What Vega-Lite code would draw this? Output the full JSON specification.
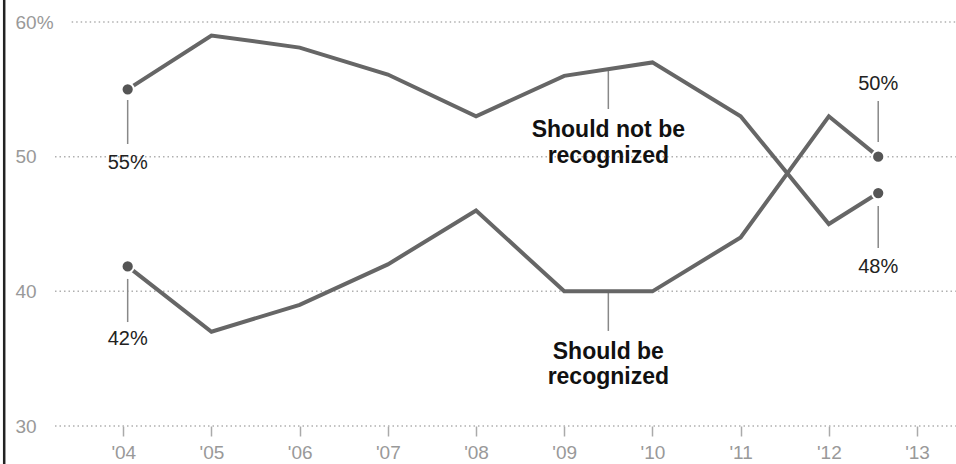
{
  "$schema": "https://vega.github.io/schema/vega-lite/v6.json",
  "width": 901,
  "height": 404,
  "autosize": {"type": "none"},
  "padding": {"left": 55, "top": 22, "right": 0, "bottom": 38},
  "background": "white",
  "config": {"font": "Liberation Sans", "view": {"stroke": null}},
  "datasets": {
    "grid": [
      {"y": 30, "x0": 2003.226, "x1": 2013.44},
      {"y": 40, "x0": 2003.226, "x1": 2013.44},
      {"y": 50, "x0": 2003.226, "x1": 2013.44},
      {"y": 60, "x0": 2003.415, "x1": 2013.44}
    ],
    "frame": [{"x": 2002.65, "y0": 61.7, "y1": 27.1}],
    "series": [
      {"series": "Should not be recognized", "x": 2004.05, "y": 55},
      {"series": "Should not be recognized", "x": 2005, "y": 59},
      {"series": "Should not be recognized", "x": 2006, "y": 58.1},
      {"series": "Should not be recognized", "x": 2007, "y": 56.1},
      {"series": "Should not be recognized", "x": 2008, "y": 53},
      {"series": "Should not be recognized", "x": 2009, "y": 56},
      {"series": "Should not be recognized", "x": 2010, "y": 57},
      {"series": "Should not be recognized", "x": 2011, "y": 53},
      {"series": "Should not be recognized", "x": 2012, "y": 45},
      {"series": "Should not be recognized", "x": 2012.56, "y": 47.3},
      {"series": "Should be recognized", "x": 2004.05, "y": 41.85},
      {"series": "Should be recognized", "x": 2005, "y": 37},
      {"series": "Should be recognized", "x": 2006, "y": 39},
      {"series": "Should be recognized", "x": 2007, "y": 42},
      {"series": "Should be recognized", "x": 2008, "y": 46},
      {"series": "Should be recognized", "x": 2009, "y": 40},
      {"series": "Should be recognized", "x": 2010, "y": 40},
      {"series": "Should be recognized", "x": 2011, "y": 44},
      {"series": "Should be recognized", "x": 2012, "y": 53},
      {"series": "Should be recognized", "x": 2012.56, "y": 50}
    ],
    "ends": [
      {"x": 2004.05, "y": 55},
      {"x": 2004.05, "y": 41.85},
      {"x": 2012.56, "y": 50},
      {"x": 2012.56, "y": 47.3}
    ],
    "leaders": [
      {"x": 2004.05, "y0": 54.21, "y1": 50.94},
      {"x": 2004.05, "y0": 40.92, "y1": 37.72},
      {"x": 2012.56, "y0": 54.13, "y1": 51.09},
      {"x": 2012.56, "y0": 46.34, "y1": 43.22},
      {"x": 2009.5, "y0": 56.44, "y1": 53.54},
      {"x": 2009.5, "y0": 39.88, "y1": 37.06}
    ],
    "pct": [
      {"x": 2004.05, "y": 49.53, "label": "55%"},
      {"x": 2004.05, "y": 36.46, "label": "42%"},
      {"x": 2012.56, "y": 55.4, "label": "50%"},
      {"x": 2012.56, "y": 41.81, "label": "48%"}
    ],
    "notes": [
      {"x": 2009.5, "y": 51.98, "label": "Should not be"},
      {"x": 2009.5, "y": 50.05, "label": "recognized"},
      {"x": 2009.5, "y": 35.5, "label": "Should be"},
      {"x": 2009.5, "y": 33.64, "label": "recognized"}
    ]
  },
  "layer": [
    {
      "data": {"name": "grid"},
      "mark": {"type": "rule", "color": "#b0b0b0", "strokeWidth": 1.5, "strokeDash": [1.5, 3]},
      "encoding": {
        "x": {
          "field": "x0", "type": "quantitative",
          "scale": {"domain": [2003.226, 2013.442], "nice": false, "zero": false},
          "axis": {
            "orient": "bottom", "values": [2004, 2005, 2006, 2007, 2008, 2009, 2010, 2011, 2012, 2013],
            "labelExpr": "\"'\" + substring(toString(datum.value), 2)",
            "domain": false, "grid": false, "tickSize": 10, "tickColor": "#aaaaaa", "tickWidth": 1.5,
            "labelColor": "#999999", "labelFontSize": 19, "labelPadding": 7, "title": null
          }
        },
        "x2": {"field": "x1"},
        "y": {
          "field": "y", "type": "quantitative",
          "scale": {"domain": [30, 60], "nice": false, "zero": false},
          "axis": {
            "orient": "left", "values": [30, 40, 50, 60],
            "labelExpr": "datum.value == 60 ? '60%' : datum.label",
            "domain": false, "ticks": false, "tickSize": 0, "grid": false,
            "labelAlign": "left", "labelBaseline": "middle", "labelPadding": 40,
            "labelColor": "#999999", "labelFontSize": 19, "title": null
          }
        }
      }
    },
    {
      "data": {"name": "frame"},
      "mark": {"type": "rule", "color": "#222222", "strokeWidth": 2.5},
      "encoding": {
        "x": {"field": "x", "type": "quantitative"},
        "y": {"field": "y0", "type": "quantitative"},
        "y2": {"field": "y1"}
      }
    },
    {
      "data": {"name": "leaders"},
      "mark": {"type": "rule", "color": "#888888", "strokeWidth": 1.5},
      "encoding": {
        "x": {"field": "x", "type": "quantitative"},
        "y": {"field": "y0", "type": "quantitative"},
        "y2": {"field": "y1"}
      }
    },
    {
      "data": {"name": "series"},
      "mark": {"type": "line", "color": "#666666", "strokeWidth": 4, "strokeJoin": "miter"},
      "encoding": {
        "x": {"field": "x", "type": "quantitative"},
        "y": {"field": "y", "type": "quantitative"},
        "detail": {"field": "series"}
      }
    },
    {
      "data": {"name": "ends"},
      "mark": {"type": "point", "filled": true, "fill": "#555555", "stroke": "white", "strokeWidth": 2, "size": 150, "opacity": 1},
      "encoding": {
        "x": {"field": "x", "type": "quantitative"},
        "y": {"field": "y", "type": "quantitative"}
      }
    },
    {
      "data": {"name": "pct"},
      "mark": {"type": "text", "color": "#222222", "fontSize": 20, "baseline": "middle", "align": "center"},
      "encoding": {
        "x": {"field": "x", "type": "quantitative"},
        "y": {"field": "y", "type": "quantitative"},
        "text": {"field": "label"}
      }
    },
    {
      "data": {"name": "notes"},
      "mark": {"type": "text", "color": "#111111", "fontSize": 23, "fontWeight": "bold", "baseline": "middle", "align": "center"},
      "encoding": {
        "x": {"field": "x", "type": "quantitative"},
        "y": {"field": "y", "type": "quantitative"},
        "text": {"field": "label"}
      }
    }
  ]
}
